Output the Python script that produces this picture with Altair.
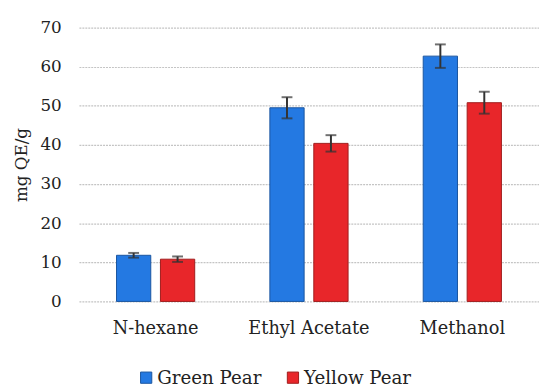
import altair as alt
import pandas as pd

solvents = ["N-hexane", "Ethyl Acetate", "Methanol"]
series = ["Green Pear", "Yellow Pear"]
green_vals = [11.8, 49.5, 62.7]
green_err = [0.6, 2.7, 3.0]
yellow_vals = [10.8, 40.4, 50.8]
yellow_err = [0.7, 2.1, 2.8]
y_ticks = [0, 10, 20, 30, 40, 50, 60, 70]

fill_colors = ["#2479e2", "#e8262a"]
stroke_colors = ["#1a55a0", "#a01c1c"]

rows = []
for i, s in enumerate(solvents):
    rows.append({"solvent": s, "series": series[0], "value": green_vals[i],
                 "lo": green_vals[i] - green_err[i], "hi": green_vals[i] + green_err[i]})
    rows.append({"solvent": s, "series": series[1], "value": yellow_vals[i],
                 "lo": yellow_vals[i] - yellow_err[i], "hi": yellow_vals[i] + yellow_err[i]})
df = pd.DataFrame(rows)

FONT = "DejaVu Serif"

x_axis = alt.Axis(labelAngle=0, domain=False, ticks=False, grid=False, labelPadding=19,
                  labelFontSize=18, labelFont=FONT, labelColor="#222")
x_scale = alt.Scale(paddingInner=0.49, paddingOuter=0.245)
y_axis = alt.Axis(values=y_ticks, domain=False, ticks=False, labelPadding=18,
                  labelOverlap=False,
                  labelFontSize=17, labelFont=FONT, labelColor="#222",
                  titleFontSize=17, titleFont=FONT, titleFontWeight="normal",
                  titleColor="#222", titleX=-58, titleY=139, titleAngle=-90,
                  titleAlign="center", titleBaseline="middle",
                  grid=True, gridColor="#c4c4c4", gridDash=[2, 1], gridWidth=1.2)
y_scale = alt.Scale(domain=[0, 70], nice=False)


def X():
    return alt.X("solvent:N", sort=solvents, title=None, scale=x_scale, axis=x_axis)


def Y(field):
    return alt.Y(field, title="mg QE/g", scale=y_scale, axis=y_axis)


xoff = alt.XOffset("series:N", sort=series,
                   scale=alt.Scale(paddingInner=0.22, paddingOuter=0))

base = alt.Chart(df)

bars = base.mark_bar(strokeWidth=1).encode(
    x=X(),
    xOffset=xoff,
    y=Y("value:Q"),
    color=alt.Color("series:N", sort=series,
                    scale=alt.Scale(domain=series, range=fill_colors),
                    legend=alt.Legend(title=None, orient="none", direction="horizontal",
                                      legendX=59, legendY=346, symbolType="square",
                                      symbolSize=130, symbolStrokeWidth=1,
                                      labelFontSize=18.5, labelFont=FONT, labelColor="#222",
                                      columnPadding=22, symbolOffset=0, labelOffset=2)),
    stroke=alt.Stroke("series:N", sort=series,
                      scale=alt.Scale(domain=series, range=stroke_colors), legend=None),
)

rules = base.mark_rule(color="#333333", strokeWidth=2).encode(
    x=X(),
    xOffset=xoff,
    y=Y("lo:Q"),
    y2="hi:Q",
)

caps_hi = base.mark_tick(color="#333333", thickness=2, size=11, orient="horizontal").encode(
    x=X(),
    xOffset=xoff,
    y=Y("hi:Q"),
)
caps_lo = base.mark_tick(color="#333333", thickness=2, size=11, orient="horizontal").encode(
    x=X(),
    xOffset=xoff,
    y=Y("lo:Q"),
)

chart = alt.layer(bars, rules, caps_hi, caps_lo).properties(
    width=467, height=278,
    background="white",
    autosize=alt.AutoSizeParams(type="none"),
    padding={"left": 72, "top": 17, "right": 0, "bottom": 86},
).configure_view(stroke="transparent", strokeWidth=0).configure_axis(
    domain=False
)

chart.save("out.html", embed_options={"renderer": "svg", "actions": False})
